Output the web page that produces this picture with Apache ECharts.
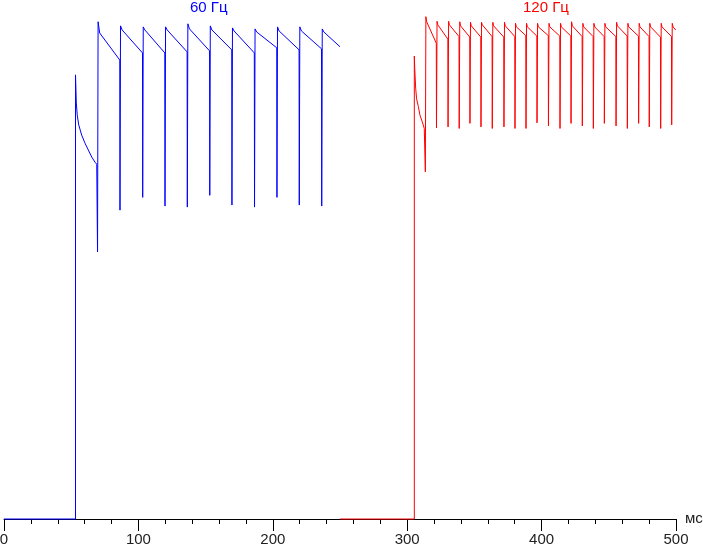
<!DOCTYPE html>
<html>
<head>
<meta charset="utf-8">
<script src="https://cdn.jsdelivr.net/npm/echarts@6/dist/echarts.min.js"></script>
<style>
html,body{margin:0;padding:0;background:#fff;}
#chart{width:703px;height:547px;}
</style>
</head>
<body>
<div id="chart"></div>
<script>
// ---- data (time in ms, brightness in %) ----
const xTicks = [0, 100, 200, 300, 400, 500];
const axisUnit = 'мс';
const blueTitle = '60 Гц';
const redTitle = '120 Гц';

// 60 Hz trace
const blueBaseStart = 0;
const blueRiseT = [53.2, 53.8, 54.5, 55.6, 57.8, 60.3, 62.7, 65.3, 67.7, 69.0];
const blueRiseV = [87.0, 81.5, 79.1, 77.2, 75.2, 73.6, 72.3, 70.9, 69.9, 69.5];
const blueDropT = [69.6, 86.3, 103.2, 119.8, 136.4, 153.1, 169.6, 186.4, 203.1, 219.7, 236.4];
const blueDip   = [52.3, 60.5, 63.0, 61.3, 61.1, 63.4, 61.5, 61.1, 63.0, 61.5, 61.3];
const bluePeak  = [97.4, 96.6, 96.4, 96.4, 97.0, 96.6, 96.2, 96.0, 96.4, 96.4, 96.0];
const blueShoulder = [95.2, 95.8, 95.8, 95.8, 96.0, 95.8, 95.6, 95.4, 95.6, 95.6, 95.4];
const blueEnd   = [89.9, 91.3, 91.3, 91.5, 91.7, 91.9, 91.3, 92.3, 91.9, 92.1, 92.5];
const blueEndT = 250.0;

// 120 Hz trace
const redBaseStart = 250.0;
const redRiseT = [305.3, 305.6, 306.3, 307.0, 308.3, 309.5, 311.2, 312.7];
const redRiseV = [90.7, 88.3, 84.4, 82.3, 80.8, 79.1, 77.8, 76.5];
const redDropT = [313.5, 321.8, 330.4, 338.7, 346.7, 354.9, 363.3, 372.0, 380.2, 388.4, 396.6, 405.1,
                  413.7, 421.9, 430.3, 438.5, 446.7, 455.4, 463.8, 472.2, 480.1, 488.6, 496.8];
const redDip  = [68.0, 76.6, 76.8, 76.5, 77.5, 76.8, 76.5, 76.8, 76.5, 76.5, 77.6, 77.0,
                 76.5, 77.5, 77.0, 76.5, 77.5, 77.0, 76.5, 77.5, 76.8, 76.5, 77.2];
const redPeak = [98.4, 97.5, 97.5, 97.4, 97.3, 97.3, 97.3, 97.3, 97.1, 97.1, 97.1, 97.1,
                 97.1, 97.4, 97.1, 97.1, 97.1, 97.3, 97.1, 97.1, 97.1, 97.1, 97.1];
const redShoulder = [97.4, 96.8, 96.8, 96.6, 96.6, 96.8, 96.6, 96.6, 96.4, 96.4, 96.4, 96.4,
                     96.4, 96.6, 96.4, 96.4, 96.4, 96.6, 96.4, 96.4, 96.4, 96.4, 96.4];
const redEnd  = [93.2, 94.0, 94.5, 94.4, 94.4, 94.5, 94.4, 94.5, 94.7, 94.6, 94.7, 94.6,
                 94.6, 94.5, 94.5, 94.5, 94.5, 94.6, 94.6, 94.5, 94.4, 94.5, 95.8];
const redEndT = 499.8;

function buildTrace(baseStart, riseT, riseV, dropT, dip, peak, shoulder, shoulderDt, end, endT) {
  const pts = [[baseStart, 0], [riseT[0], 0]];
  riseT.forEach((t, i) => pts.push([t, riseV[i]]));
  for (let i = 0; i < dropT.length; i++) {
    pts.push([dropT[i], dip[i]]);
    pts.push([dropT[i] + 0.4, peak[i]]);
    const next = i + 1 < dropT.length ? dropT[i + 1] - 0.15 : endT;
    if (dropT[i] + shoulderDt < next) pts.push([dropT[i] + shoulderDt, shoulder[i]]);
    pts.push([next, end[i]]);
  }
  return pts;
}

const blueData = buildTrace(blueBaseStart, blueRiseT, blueRiseV, blueDropT, blueDip, bluePeak, blueShoulder, 1.6, blueEnd, blueEndT);
const redData = buildTrace(redBaseStart, redRiseT, redRiseV, redDropT, redDip, redPeak, redShoulder, 1.0, redEnd, redEndT);

const FONT = "'Liberation Sans', Arial, sans-serif";
const chart = echarts.init(document.getElementById('chart'));
chart.setOption({
  animation: false,
  backgroundColor: '#ffffff',
  grid: { left: 4, right: 27, top: 8.5, bottom: 28, containLabel: false, outerBoundsMode: 'none' },
  xAxis: {
    type: 'value',
    min: xTicks[0],
    max: xTicks[xTicks.length - 1],
    interval: 100,
    name: axisUnit,
    nameLocation: 'end',
    nameGap: 9,
    nameTextStyle: { color: '#222', fontSize: 15, fontFamily: FONT, verticalAlign: 'middle' },
    axisLine: { show: true, onZero: false, lineStyle: { color: '#000', width: 1 } },
    axisTick: { show: true, length: 12, lineStyle: { color: '#000' } },
    minorTick: { show: true, splitNumber: 5, length: 5, lineStyle: { color: '#000' } },
    splitLine: { show: false },
    axisLabel: { color: '#222', fontSize: 15, fontFamily: FONT, margin: 13 }
  },
  yAxis: {
    type: 'value', min: 0, max: 100, show: false, splitLine: { show: false }
  },
  graphic: [
    { type: 'text', left: 190, top: 0, style: { text: blueTitle, fill: '#0000ff', font: '15px ' + FONT } },
    { type: 'text', left: 523, top: 0, style: { text: redTitle, fill: '#ff0000', font: '15px ' + FONT } }
  ],
  series: [
    { type: 'line', data: blueData, showSymbol: false, clip: false,
      lineStyle: { color: '#0000ff', width: 1 }, itemStyle: { color: '#0000ff' } },
    { type: 'line', data: redData, showSymbol: false, clip: false,
      lineStyle: { color: '#ff0000', width: 1 }, itemStyle: { color: '#ff0000' } }
  ]
});
</script>
</body>
</html>
